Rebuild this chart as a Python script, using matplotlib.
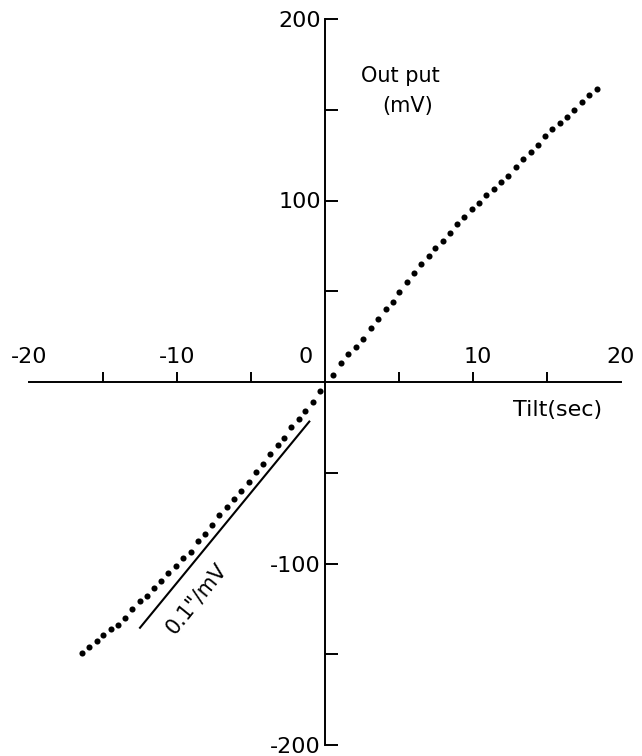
import matplotlib
matplotlib.use('Agg')
from matplotlib import pyplot as plt

# measured dots (tilt in sec, output in mV)
tilt_pos = [0.52, 1.06, 1.58, 2.1, 2.54, 3.08, 3.6, 4.12, 4.57, 5.0, 5.56, 6.0,
            6.5, 7.0, 7.45, 7.95, 8.45, 8.94, 9.39, 9.9, 10.4, 10.9, 11.4, 11.9,
            12.39, 12.88, 13.36, 13.9, 14.41, 14.89, 15.34, 15.88, 16.37, 16.82,
            17.34, 17.84, 18.36]
out_pos = [3.9, 10.3, 15.4, 19.5, 23.5, 29.6, 34.5, 40.2, 44.2, 49.8, 55.3, 59.9,
           64.8, 69.4, 73.7, 77.9, 82.3, 87.0, 91.1, 95.1, 98.8, 103.0, 106.2, 110.4,
           113.5, 118.3, 122.7, 126.5, 130.7, 135.3, 139.2, 142.6, 145.9, 150.0,
           154.2, 158.1, 161.2]
tilt_neg = [-0.34, -0.79, -1.35, -1.78, -2.30, -2.75, -3.2, -3.7, -4.19, -4.64,
            -5.16, -5.66, -6.15, -6.6, -7.14, -7.61, -8.1, -8.6, -9.07, -9.57,
            -10.07, -10.59, -11.06, -11.53, -12.05, -12.5, -13.02, -13.49, -14.0,
            -14.46, -14.98, -15.43, -15.93, -16.44]
out_neg = [-5.0, -10.8, -16.0, -20.2, -25.0, -31.0, -34.9, -39.5, -45.0, -49.4,
           -54.9, -59.9, -64.6, -68.7, -73.4, -78.8, -83.7, -87.4, -93.5, -96.8,
           -101.2, -105.4, -109.6, -113.7, -117.9, -120.5, -125.3, -129.9, -133.9,
           -136.3, -139.4, -142.5, -145.8, -149.1]

# scale bar 0.1"/mV
bar_x = [-12.5, -1.06]
bar_y = [-135.4, -21.8]

xticks = [-15, -10, -5, 5, 10, 15]
xlabel_pos = [-20, -10, -1.3, 10.3, 20]
xlabel_txt = ['-20', '-10', '0', '10', '20']
yticks_major = [-200, -100, 100, 200]
ylabels = ['-200', '-100', '100', '200']
yticks_minor = [-150, -50, 50, 150]

plt.rcParams['font.family'] = ['DejaVu Sans']

fig = plt.figure(figsize=(6.42, 7.56), dpi=100)
ax = fig.add_axes([29 / 642, 11 / 756, 592 / 642, 726 / 756])
ax.set_xlim(-20, 20)
ax.set_ylim(-200, 200)

ax.plot(tilt_pos + tilt_neg, out_pos + out_neg, 'o', color='black',
        markersize=4.4, markeredgewidth=0)
ax.plot(bar_x, bar_y, color='black', lw=1.5)
ax.text(-8.7, -119.5, '0.1"/mV', rotation=51, rotation_mode='anchor',
        ha='center', va='center', fontsize=15)

# axes through the origin
for side in ['top', 'right']:
    ax.spines[side].set_visible(False)
ax.spines['left'].set_position(('data', 0))
ax.spines['bottom'].set_position(('data', 0))
ax.spines['left'].set_linewidth(1.4)
ax.spines['bottom'].set_linewidth(1.4)

ax.set_xticks(xticks)
ax.set_xticklabels([])
ax.tick_params(axis='x', direction='in', length=7, width=1.4)

ax.set_yticks(yticks_major)
ax.set_yticklabels(ylabels)
ax.set_yticks(yticks_minor, minor=True)
ax.tick_params(axis='y', which='both', direction='in', length=9, width=1.4,
               labelsize=16, pad=3)

for xp, t in zip(xlabel_pos, xlabel_txt):
    ax.text(xp, 14, t, ha='center', va='center', fontsize=16)

ax.text(5.1, 168.5, 'Out put', ha='center', va='center', fontsize=15)
ax.text(5.6, 152, '(mV)', ha='center', va='center', fontsize=15)
ax.text(15.7, -15.4, 'Tilt(sec)', ha='center', va='center', fontsize=16)

plt.savefig('out.png', dpi=100)
